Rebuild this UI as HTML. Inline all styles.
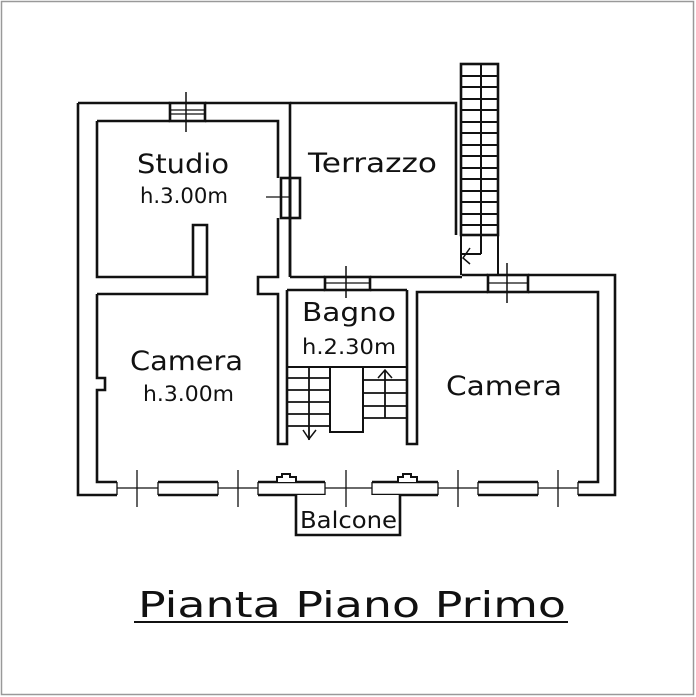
<!DOCTYPE html>
<html><head><meta charset="utf-8"><style>
html,body{margin:0;padding:0;background:#fff}
svg{display:block}
text{font-family:"DejaVu Sans","Liberation Sans",sans-serif;fill:#111}
</style></head><body>
<svg width="696" height="697" viewBox="0 0 696 697" xmlns="http://www.w3.org/2000/svg">
<rect x="1.5" y="1.5" width="692" height="693" fill="none" stroke="#999" stroke-width="1.5"/>
<g fill="#fff" stroke="#111" stroke-width="2.6">
<path d="M78,103 H170 M205,103 H290 V277 M78,103 V495 H117 M158,495 H218 M258,495 H325 M372,495 H438 M478,495 H538 M578,495 H615 V275 H528 M488,275 H462"/>
<path d="M97,121 H170 M205,121 H278 V178 M278,218 V277 H258 V294 H278 V444 H287 V290 M97,121 V277 H207 V225 H193 V277 M97,294 H207 V277 M97,294 V378 H105 V390 H97 V482 H117 M158,482 H218 M258,482 H325 M372,482 H438 M478,482 H538 M578,482 H598 V292 H528 M488,292 H417 V444 H407 V290"/>
<path d="M290,277 H325 M370,277 H462 M287,290 H325 M370,290 H407" />
<path d="M290,218 V277"/>
<path d="M290,103 H456 V235"/>
<path d="M296,495 V535 H400 V495"/>
<path d="M277,482 V477 H282 V474 H290 V477 H296 V482 M398,482 V477 H403 V474 H411 V477 H417 V482" stroke-width="2"/>
</g>
<g fill="none" stroke="#111" stroke-width="2.6">
<rect x="170" y="103" width="35" height="18"/>
<line x1="170" y1="110" x2="205" y2="110" stroke-width="1.3"/><line x1="170" y1="114" x2="205" y2="114" stroke-width="1.3"/>
<line x1="186" y1="92" x2="186" y2="132" stroke-width="1.5"/>
<rect x="325" y="277" width="45" height="13"/>
<line x1="325" y1="283" x2="370" y2="283" stroke-width="1.3"/>
<line x1="346" y1="266" x2="346" y2="298" stroke-width="1.5"/>
<rect x="488" y="275" width="40" height="17"/>
<line x1="488" y1="283" x2="528" y2="283" stroke-width="1.3"/>
<line x1="507" y1="263" x2="507" y2="303" stroke-width="1.5"/>
<rect x="281" y="178" width="9" height="40"/>
<rect x="290" y="178" width="10" height="40"/>
<line x1="266" y1="197" x2="290" y2="197" stroke-width="1.3"/>
<g stroke-width="1.3">
<line x1="117" y1="488" x2="158" y2="488"/><line x1="218" y1="488" x2="258" y2="488"/><line x1="325" y1="488" x2="372" y2="488"/><line x1="438" y1="488" x2="478" y2="488"/><line x1="538" y1="488" x2="578" y2="488"/>
<line x1="117" y1="482" x2="117" y2="495"/><line x1="158" y1="482" x2="158" y2="495"/><line x1="218" y1="482" x2="218" y2="495"/><line x1="258" y1="482" x2="258" y2="495"/><line x1="325" y1="482" x2="325" y2="495"/><line x1="372" y1="482" x2="372" y2="495"/><line x1="438" y1="482" x2="438" y2="495"/><line x1="478" y1="482" x2="478" y2="495"/><line x1="538" y1="482" x2="538" y2="495"/><line x1="578" y1="482" x2="578" y2="495"/>
<line x1="137" y1="470" x2="137" y2="507"/><line x1="238" y1="470" x2="238" y2="507"/><line x1="346" y1="470" x2="346" y2="507"/><line x1="458" y1="470" x2="458" y2="507"/><line x1="558" y1="470" x2="558" y2="507"/>
</g>
<rect x="461" y="64" width="37" height="171"/>
<line x1="481" y1="64" x2="481" y2="254" stroke-width="2"/>
<path d="M461,235 V275 M498,235 V275 M461,254 H481" stroke-width="2"/>
<g stroke-width="2">
<line x1="461" y1="76" x2="498" y2="76"/><line x1="461" y1="87" x2="498" y2="87"/><line x1="461" y1="99" x2="498" y2="99"/><line x1="461" y1="110" x2="498" y2="110"/><line x1="461" y1="122" x2="498" y2="122"/><line x1="461" y1="133" x2="498" y2="133"/><line x1="461" y1="145" x2="498" y2="145"/><line x1="461" y1="156" x2="498" y2="156"/><line x1="461" y1="168" x2="498" y2="168"/><line x1="461" y1="179" x2="498" y2="179"/><line x1="461" y1="191" x2="498" y2="191"/><line x1="461" y1="202" x2="498" y2="202"/><line x1="461" y1="214" x2="498" y2="214"/><line x1="461" y1="225" x2="498" y2="225"/>
</g>
<path d="M470,248 L463,258 L470,264" stroke-width="1.5"/>
<path d="M287,367 H407 M330,367 V432 H363 V367" stroke-width="2"/>
<g stroke-width="1.8">
<line x1="287" y1="378" x2="330" y2="378"/><line x1="287" y1="390" x2="330" y2="390"/><line x1="287" y1="402" x2="330" y2="402"/><line x1="287" y1="414" x2="330" y2="414"/><line x1="287" y1="426" x2="330" y2="426"/>
<line x1="309" y1="367" x2="309" y2="440"/>
<line x1="363" y1="380" x2="407" y2="380"/><line x1="363" y1="393" x2="407" y2="393"/><line x1="363" y1="406" x2="407" y2="406"/><line x1="363" y1="418" x2="407" y2="418"/>
<line x1="385" y1="370" x2="385" y2="418"/>
</g>
<path d="M303,430 L309,439 L316,430 M378,378 L385,370 L392,378" stroke-width="1.5"/>
</g>
<text x="137" y="173" font-size="27" textLength="92" lengthAdjust="spacingAndGlyphs">Studio</text>
<text x="140" y="203" font-size="21" textLength="88" lengthAdjust="spacingAndGlyphs">h.3.00m</text>
<text x="308" y="172" font-size="27" textLength="129" lengthAdjust="spacingAndGlyphs">Terrazzo</text>
<text x="302" y="321" font-size="26" textLength="94" lengthAdjust="spacingAndGlyphs">Bagno</text>
<text x="302" y="354" font-size="21" textLength="94" lengthAdjust="spacingAndGlyphs">h.2.30m</text>
<text x="130" y="370" font-size="27" textLength="113" lengthAdjust="spacingAndGlyphs">Camera</text>
<text x="143" y="401" font-size="21" textLength="91" lengthAdjust="spacingAndGlyphs">h.3.00m</text>
<text x="446" y="395" font-size="27" textLength="116" lengthAdjust="spacingAndGlyphs">Camera</text>
<text x="300" y="528" font-size="23" textLength="97" lengthAdjust="spacingAndGlyphs">Balcone</text>
<text x="138" y="617" font-size="36" textLength="428" lengthAdjust="spacingAndGlyphs">Pianta  Piano  Primo</text>
<line x1="134" y1="622" x2="568" y2="622" stroke="#111" stroke-width="2"/>
</svg>
</body></html>
